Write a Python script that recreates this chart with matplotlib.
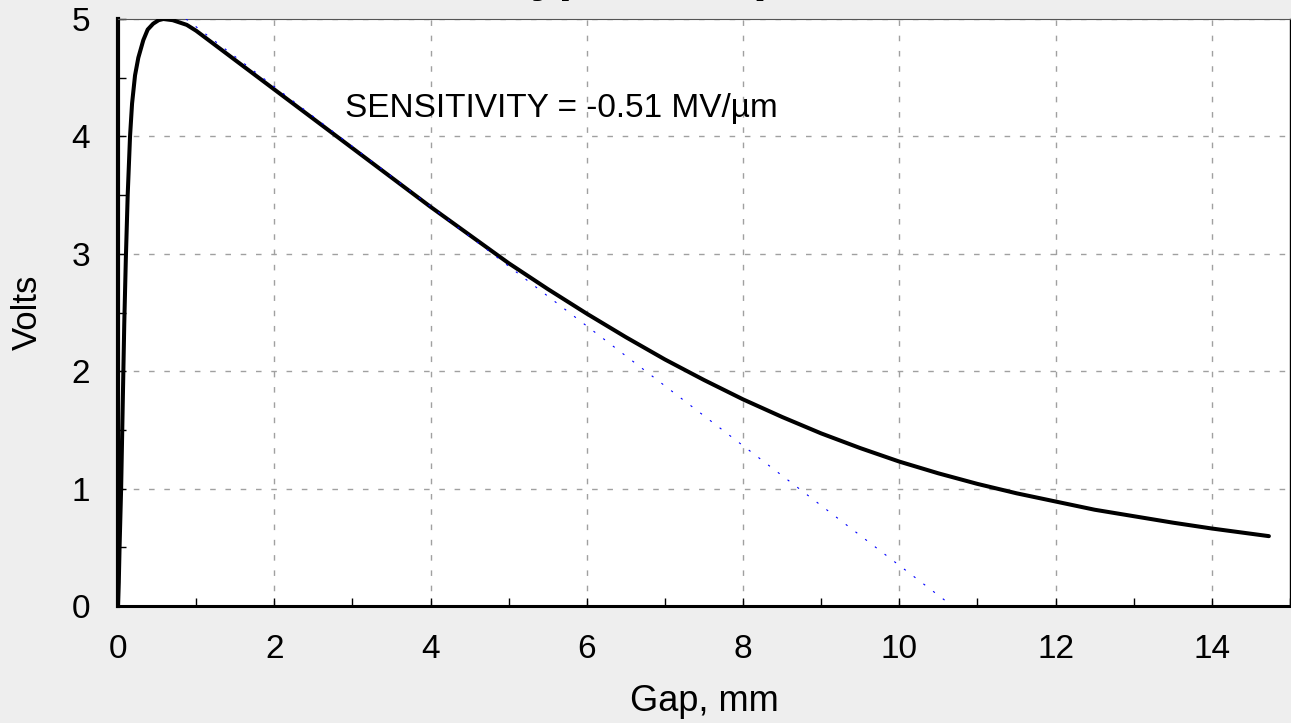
import matplotlib
matplotlib.use("Agg")
import matplotlib.pyplot as plt
from matplotlib.ticker import MultipleLocator

plt.rcParams['font.family'] = ['Liberation Sans', 'DejaVu Sans']

# Measured response curve (gap in mm, output in volts)
gap_mm = [0.0, 0.01, 0.02, 0.04, 0.06, 0.08, 0.10, 0.124, 0.154, 0.18, 0.218,
          0.26, 0.324, 0.38, 0.45, 0.52, 0.58, 0.7, 0.88, 1.0, 1.2, 1.48,
          2.0, 2.5, 3.0, 3.5, 4.0, 4.5, 5.0, 5.5, 6.0, 6.5, 7.0, 7.5, 8.0,
          8.5, 9.0, 9.5, 10.0, 10.5, 11.0, 11.5, 12.0, 12.5, 13.0, 13.5,
          14.0, 14.73]
volts = [0.0, 0.2, 0.5, 1.0, 1.7, 2.4, 2.95, 3.5, 4.0, 4.28, 4.52,
         4.67, 4.82, 4.91, 4.96, 4.99, 5.0, 4.99, 4.95, 4.90, 4.80, 4.66,
         4.40, 4.15, 3.90, 3.65, 3.40, 3.16, 2.92, 2.70, 2.49, 2.29, 2.10,
         1.925, 1.76, 1.61, 1.47, 1.345, 1.23, 1.13, 1.04, 0.96, 0.89, 0.82,
         0.765, 0.71, 0.66, 0.595]

# Linear sensitivity fit line
fit_gap = [0.87, 10.58]
fit_volts = [5.0, 0.05]

title_text = "Typical Gap Curve"
annotation = "SENSITIVITY = -0.51 MV/\u00b5m"
xlabel = "Gap, mm"
ylabel = "Volts"

W, H = 1291, 723
fig = plt.figure(figsize=(W / 100, H / 100), dpi=100, facecolor='#eeeeee')
ax = fig.add_axes([118 / W, 1 - 606 / H, (1290 - 118) / W, (606 - 19) / H])
ax.set_facecolor('white')

ax.plot(gap_mm, volts, color='black', lw=2.9, solid_capstyle='round',
        solid_joinstyle='round', zorder=4)
ax.plot(fit_gap, fit_volts, color='blue', lw=0.8, linestyle=(0, (2, 9)), zorder=5)

ax.set_xlim(0, 15)
ax.set_ylim(0, 5)
ax.xaxis.set_major_locator(MultipleLocator(2))
ax.xaxis.set_minor_locator(MultipleLocator(1))
ax.yaxis.set_major_locator(MultipleLocator(1))
ax.yaxis.set_minor_locator(MultipleLocator(0.5))

ax.grid(True, which='major', color='#a0a0a0', lw=1.0, linestyle=(0, (4, 7)))
ax.set_axisbelow(True)

ax.tick_params(which='both', direction='in', length=6, width=1, colors='black',
               labelsize=24, top=False, right=False)
ax.tick_params(axis='x', which='both', pad=20)
ax.tick_params(axis='y', which='both', pad=20)

ax.spines['left'].set_linewidth(3.0)
ax.spines['bottom'].set_linewidth(2.2)
ax.spines['right'].set_linewidth(1.0)
ax.spines['top'].set_linewidth(0.8)
ax.spines['top'].set_color('#555555')

ax.set_xlabel(xlabel, fontsize=26, labelpad=14)
ax.set_ylabel(ylabel, fontsize=25, labelpad=20)

ax.text(2.9, 4.165, annotation, fontsize=24, va='baseline', ha='left', zorder=6)

fig.text(504 / W, 1 + 9 / H, title_text, fontsize=36, fontweight='bold',
         ha='left', va='baseline')

fig.savefig('out.png', dpi=100, facecolor=fig.get_facecolor())
